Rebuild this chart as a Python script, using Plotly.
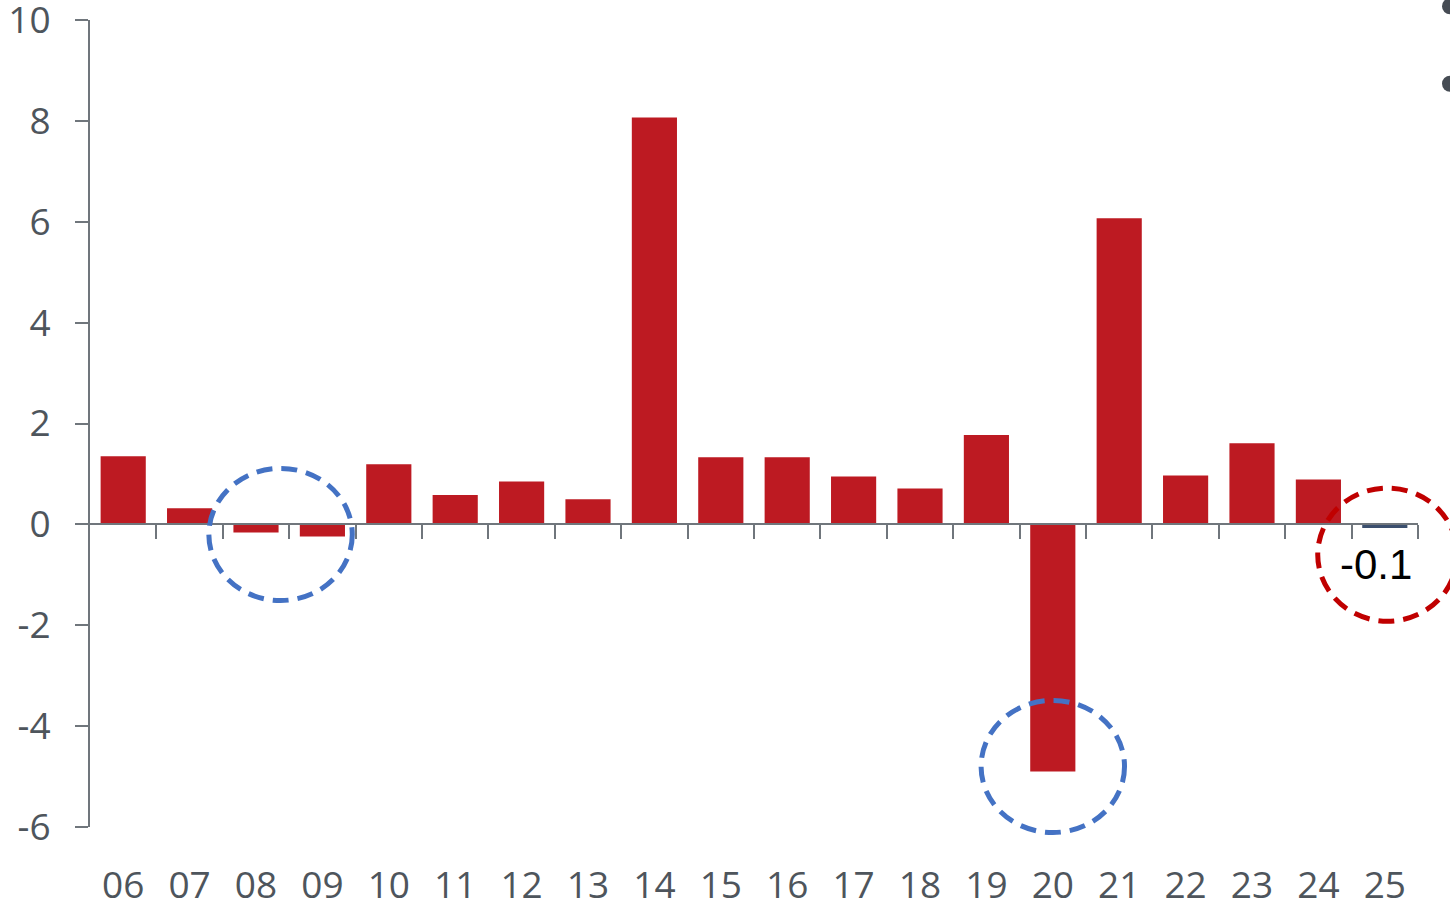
import plotly.graph_objects as go

categories = ["06", "07", "08", "09", "10", "11", "12", "13", "14", "15",
              "16", "17", "18", "19", "20", "21", "22", "23", "24", "25"]
values = [1.35, 0.32, -0.16, -0.24, 1.19, 0.58, 0.85, 0.5, 8.07, 1.33,
          1.33, 0.95, 0.71, 1.77, -4.9, 6.07, 0.97, 1.61, 0.89, -0.07]
last_label = "-0.1"
y_ticks = [-6, -4, -2, 0, 2, 4, 6, 8, 10]
y_ticktext = ["-6", "-4", "-2", "0", "2", "4", "6", "8", "10"]

RED = "#bd1a22"
NAVY = "#3b4f6e"
AXIS = "#70767c"
LABEL = "#4e555c"

n = len(categories)
idx = list(range(n))
colors = [RED] * (n - 1) + [NAVY]

fig = go.Figure()
fig.add_trace(go.Bar(x=idx, y=values, marker=dict(color=colors, line=dict(width=0)),
                     width=0.68, hoverinfo="skip", showlegend=False))
fig.add_trace(go.Scatter(x=idx, y=values, xaxis="x2", mode="markers",
                         marker=dict(opacity=0), hoverinfo="skip", showlegend=False))

ymin, ymax = -6, 10
eps = 0.001
zero_pos = (0 - ymin) / (ymax - ymin)

fig.update_layout(
    width=1450, height=901,
    margin=dict(l=90, r=32, t=20, b=74, autoexpand=False),
    paper_bgcolor="white", plot_bgcolor="white",
    font=dict(family="Open Sans", color=LABEL, size=37),
    xaxis=dict(range=[-0.5, n - 0.5], tickvals=idx, ticktext=categories,
               showline=False, showgrid=False, zeroline=False, ticks="",
               automargin=False, ticklabelstandoff=33, ticklabeloverflow="allow",
               tickfont=dict(size=37, color=LABEL)),
    xaxis2=dict(overlaying="x", anchor="free", position=zero_pos,
                range=[-0.5, n - 0.5], tickvals=[i + 0.5 for i in idx],
                showticklabels=False, showline=True, linecolor=AXIS, linewidth=2,
                ticks="outside", ticklen=14, tickwidth=2, tickcolor=AXIS,
                showgrid=False, zeroline=False, automargin=False),
    yaxis=dict(range=[ymin - eps, ymax + eps], tickvals=y_ticks, ticktext=y_ticktext,
               showline=True, linecolor=AXIS,
               linewidth=2, ticks="outside", ticklen=13, tickwidth=2, tickcolor=AXIS,
               showgrid=False, zeroline=False, ticklabelstandoff=17, automargin=False,
               ticklabeloverflow="allow",
               tickfont=dict(size=37, color=LABEL)),
    bargap=0.32,
)


def px(i):
    return (i + 0.5) / n


def py(v):
    return (v - ymin) / (ymax - ymin)


# highlight circles (centred on data positions; paper coords so not clipped)
def circle(xc, yc, rx, ry, color):
    fig.add_shape(type="circle", xref="paper", yref="paper",
                  x0=px(xc - rx), x1=px(xc + rx), y0=py(yc - ry), y1=py(yc + ry),
                  line=dict(color=color, width=5, dash="16px,9px"), layer="above")


circle(2.37, (values[2] + values[3]) / 2 - 0.0, 1.08, 1.31, "#4472c4")
circle(14, values[14] + 0.1, 1.08, 1.31, "#4472c4")
circle(19.04, -0.6, 1.05, 1.32, "#c00000")

fig.add_annotation(x=19 - 0.14, y=-0.8, xref="x", yref="y", text=last_label,
                   showarrow=False, font=dict(family="Liberation Sans", size=42, color="black"))

# clipped bullet dots at the top-right edge
for yy in [1.017, 0.921]:
    fig.add_shape(type="circle", xref="paper", yref="paper", xsizemode="pixel",
                  ysizemode="pixel", xanchor=1.0 + 32 / 1328, yanchor=yy,
                  x0=-8, x1=8, y0=-8, y1=8,
                  fillcolor="#464c54", line=dict(width=0), layer="above")

fig.write_html("out.html")
